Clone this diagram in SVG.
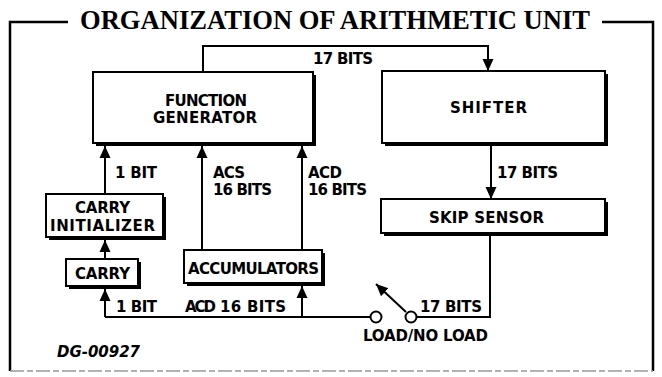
<svg xmlns="http://www.w3.org/2000/svg" width="662" height="377" viewBox="0 0 662 377">
<defs>
<style>
.frame{fill:none;stroke:#000;stroke-width:2.5}
.box{fill:#fff;stroke:#000;stroke-width:2}
.sh{fill:#000}
.ln{fill:none;stroke:#000;stroke-width:2}
.t{font-family:"DejaVu Sans",sans-serif;font-weight:bold;font-size:15px;fill:#000}
.title{font-family:"Liberation Serif",serif;font-weight:bold;font-size:28px;fill:#000}
</style>
<marker id="ah" markerUnits="userSpaceOnUse" markerWidth="12" markerHeight="12" viewBox="0 0 12 12" refX="12" refY="6" orient="auto">
<path d="M0,0.5 L12,6 L0,11.5 z" fill="#000"/>
</marker>
</defs>
<rect width="662" height="377" fill="#fff"/>
<g id="frame">
<polyline class="frame" points="68,22 10,22 10,371"/>
<polyline class="frame" points="602,22 653,22 653,371"/>
<line x1="10" y1="371" x2="653" y2="371" stroke="#999" stroke-width="1.5" stroke-dasharray="14,3,6,3"/>
<text class="title" x="80" y="29" textLength="510" lengthAdjust="spacingAndGlyphs">ORGANIZATION OF ARITHMETIC UNIT</text>
</g>
<g id="connectors">
<polyline class="ln" points="203,72 203,46 488,46 488,71" marker-end="url(#ah)"/>
<line class="ln" x1="491" y1="146" x2="491" y2="199" marker-end="url(#ah)"/>
<polyline class="ln" points="490,236 490,317 417,317"/>
<line class="ln" x1="406" y1="312" x2="376" y2="284" marker-end="url(#ah)"/>
<line class="ln" x1="370" y1="317" x2="105" y2="317"/>
<line class="ln" x1="105" y1="317" x2="105" y2="289" marker-end="url(#ah)"/>
<line class="ln" x1="302" y1="317" x2="302" y2="286" marker-end="url(#ah)"/>
<line class="ln" x1="105" y1="259" x2="105" y2="240" marker-end="url(#ah)"/>
<line class="ln" x1="105" y1="194" x2="105" y2="146" marker-end="url(#ah)"/>
<line class="ln" x1="202" y1="250" x2="202" y2="146" marker-end="url(#ah)"/>
<line class="ln" x1="302" y1="250" x2="302" y2="146" marker-end="url(#ah)"/>
<circle cx="376" cy="317" r="5.5" fill="#fff" stroke="#000" stroke-width="2"/>
<circle cx="411" cy="317" r="5.5" fill="#fff" stroke="#000" stroke-width="2"/>
<text class="t" x="313" y="64" textLength="60">17 BITS</text>
<text class="t" x="497" y="178" textLength="61">17 BITS</text>
<text class="t" x="115" y="178" textLength="42">1 BIT</text>
<text class="t" x="213" y="178" textLength="32">ACS</text>
<text class="t" x="213" y="195" textLength="59">16 BITS</text>
<text class="t" x="308" y="178" textLength="34">ACD</text>
<text class="t" x="308" y="195" textLength="59">16 BITS</text>
<text class="t" x="116" y="312" textLength="41">1 BIT</text>
<text class="t" x="185" y="312" textLength="31" font-weight="normal">ACD</text>
<text class="t" x="220" y="312" textLength="66">16 BITS</text>
<text class="t" x="420" y="312" textLength="62">17 BITS</text>
<text class="t" x="363" y="341" textLength="125">LOAD/NO LOAD</text>
</g>
<g id="function-generator">
<rect class="sh" x="96" y="75" width="220" height="71"/>
<rect class="box" x="93" y="72" width="220" height="71"/>
<text class="t" x="165" y="106" textLength="82">FUNCTION</text>
<text class="t" x="153" y="123" textLength="104">GENERATOR</text>
</g>
<g id="shifter">
<rect class="sh" x="385" y="74" width="223" height="72"/>
<rect class="box" x="382" y="71" width="223" height="72"/>
<text class="t" x="450" y="113" textLength="77">SHIFTER</text>
</g>
<g id="skip-sensor">
<rect class="sh" x="384" y="202" width="224" height="34"/>
<rect class="box" x="381" y="199" width="224" height="34"/>
<text class="t" x="429" y="223" textLength="115">SKIP SENSOR</text>
</g>
<g id="carry-initializer">
<rect class="sh" x="49" y="197" width="117" height="43"/>
<rect class="box" x="46" y="194" width="117" height="43"/>
<text class="t" x="75" y="213" textLength="55">CARRY</text>
<text class="t" x="50" y="231" textLength="105">INITIALIZER</text>
</g>
<g id="carry">
<rect class="sh" x="69" y="262" width="72" height="27"/>
<rect class="box" x="66" y="259" width="72" height="27"/>
<text class="t" x="75" y="279" textLength="55">CARRY</text>
</g>
<g id="accumulators">
<rect class="sh" x="187" y="253" width="138" height="33"/>
<rect class="box" x="184" y="250" width="138" height="33"/>
<text class="t" x="188" y="274" textLength="131">ACCUMULATORS</text>
</g>
<g id="label">
<text class="t" x="57" y="357" font-size="12" font-style="italic" textLength="83">DG-00927</text>
</g>
</svg>
